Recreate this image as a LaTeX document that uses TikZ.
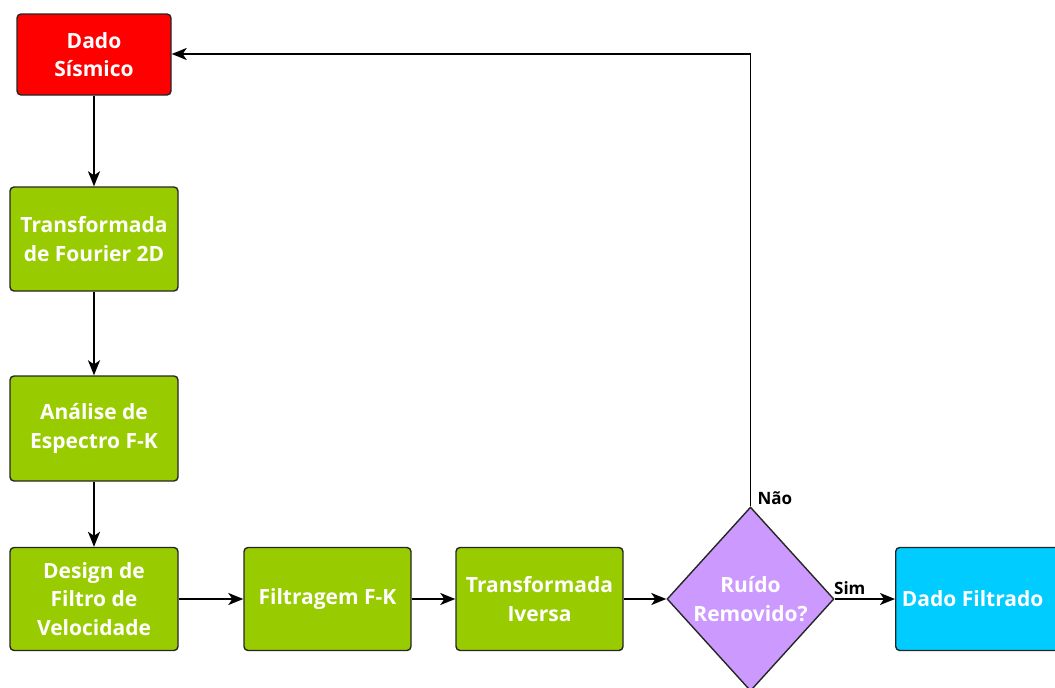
\documentclass[tikz,border=0pt]{standalone}
\usepackage{fontspec}
\setmainfont{Open Sans}
\usetikzlibrary{shapes.geometric,arrows.meta}
\definecolor{gr}{HTML}{99CC00}
\definecolor{rd}{HTML}{FF0000}
\definecolor{pu}{HTML}{CC99FF}
\definecolor{cy}{HTML}{00CCFF}
\begin{document}
\begin{tikzpicture}[x=1pt,y=-1pt,
  box/.style={draw=black!85,line width=1.4pt,rounded corners=4pt,text=white,
    font=\fontsize{21}{28.5}\selectfont\bfseries,align=center,inner sep=0pt},
  dec/.style={diamond,draw=black!85,line width=1.4pt,fill=pu,text=white,
    font=\fontsize{21}{28.5}\selectfont\bfseries,align=center,inner sep=0pt,
    minimum width=167pt,minimum height=184pt},
  arr/.style={line width=1.7pt,-{Stealth[length=15pt,width=12pt,inset=4pt]}},
  lbl/.style={font=\fontsize{17}{20}\selectfont\bfseries,text=black}]
\useasboundingbox (0,0) rectangle (1055,688);
\begin{scope}
\clip (0,0) rectangle (1055,688);
\node[box,fill=rd,minimum width=154pt,minimum height=81pt] (ds) at (94,54.5) {Dado\\Sísmico};
\node[box,fill=gr,minimum width=168pt,minimum height=104pt] (tf) at (94,239) {Transformada\\de Fourier 2D};
\node[box,fill=gr,minimum width=168pt,minimum height=105pt] (an) at (94,428.5) {Análise de\\Espectro F-K};
\node[box,fill=gr,minimum width=168pt,minimum height=103pt] (de) at (94,599) {Design de\\Filtro de\\Velocidade};
\node[box,fill=gr,minimum width=167pt,minimum height=103pt] (fi) at (327.5,599) {Filtragem F-K};
\node[box,fill=gr,minimum width=167pt,minimum height=103pt] (ti) at (539.5,599) {Transformada\\Iversa};
\node[dec] (rr) at (750.5,599) {Ruído\\Removido?};
\node[box,fill=cy,minimum width=166pt,minimum height=103pt,anchor=west] (df) at (895,599) {\hspace*{-12pt}Dado Filtrado};
\draw[arr] (ds) -- (tf);
\draw[arr] (tf) -- (an);
\draw[arr] (an) -- (de);
\draw[arr] (de) -- (fi);
\draw[arr] (fi) -- (ti);
\draw[arr] (ti) -- (rr.west);
\draw[arr] (rr.east) -- (df.west) node[lbl,pos=0.25,above=0pt] {Sim};
\coordinate (c1) at (750.5,54);
\draw[arr] (rr.north) -- (c1) -- (ds.east |- c1);
\node[lbl,anchor=south west] (no) at (754,508) {Não};
\end{scope}
\end{tikzpicture}
\end{document}
